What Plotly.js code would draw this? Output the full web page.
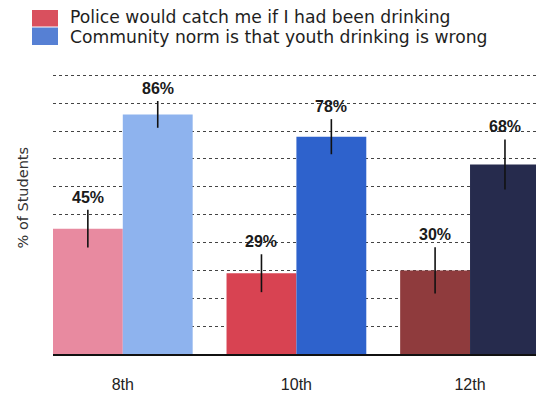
<!DOCTYPE html>
<html>
<head>
<meta charset="utf-8">
<script src="https://cdn.plot.ly/plotly-3.0.1.min.js"></script>
<style>
  html, body { margin: 0; padding: 0; background: #ffffff; }
  #chart { width: 536px; height: 393px; }
</style>
</head>
<body>
<div id="chart"></div>
<script>
// ---- data ----
const grades = ["8th", "10th", "12th"];
const seriesNames = [
  "Police would catch me if I had been drinking",
  "Community norm is that youth drinking is wrong"
];
const policeValues = [45, 29, 30];
const normValues = [86, 78, 68];
const policeErrors = [6.8, 6.8, 8.3];
const normErrors = [4.8, 6.3, 9.0];
const policeColors = ["#e88aa0", "#d84352", "#8f3b3d"];
const normColors = ["#8eb3ee", "#2e62cc", "#262b4d"];
const legendColors = ["#d9505e", "#5680d4"];
const yTitle = "% of Students";

// ---- layout constants ----
const W = 536, H = 393;
const M = { l: 53, r: 0, t: 74, b: 39 };
const PW = W - M.l - M.r, PH = H - M.t - M.b;
const BARGAP = 0.195;
const xs = grades.map((g, i) => i);
const px2x = p => (p - M.l) / PW;
const py2y = p => (H - M.b - p) / PH;

const errStyle = { type: "data", visible: true, color: "#111111", thickness: 1.6, width: 0 };

const traces = [
  {
    type: "bar", name: seriesNames[0], x: xs, y: policeValues,
    marker: { color: policeColors, line: { width: 0 } },
    error_y: Object.assign({ array: policeErrors }, errStyle),
    showlegend: false, hoverinfo: "skip"
  },
  {
    type: "bar", name: seriesNames[1], x: xs, y: normValues,
    marker: { color: normColors, line: { width: 0 } },
    error_y: Object.assign({ array: normErrors }, errStyle),
    showlegend: false, hoverinfo: "skip"
  }
];

const half = (1 - BARGAP) / 4;
const annotations = [];
[[policeValues, policeErrors, -half], [normValues, normErrors, half]].forEach(([vals, errs, off]) => {
  vals.forEach((v, i) => {
    annotations.push({
      x: i + off, y: v + errs[i], xref: "x", yref: "y",
      text: "<b>" + v + "%</b>", showarrow: false,
      yanchor: "bottom", yshift: 2,
      font: { family: "Liberation Sans, Arial, sans-serif", size: 16, color: "#1a1a1a" }
    });
  });
});

// legend (drawn manually to match swatch shape)
const legendRows = [{ top: 10, bottom: 26.5, mid: 16.5 }, { top: 27.5, bottom: 45, mid: 36.5 }];
const shapes = [];
seriesNames.forEach((name, k) => {
  const r = legendRows[k];
  shapes.push({
    type: "rect", xref: "paper", yref: "paper",
    x0: px2x(32), x1: px2x(58), y0: py2y(r.bottom), y1: py2y(r.top),
    fillcolor: legendColors[k], line: { width: 0 }
  });
  annotations.push({
    xref: "paper", yref: "paper", x: px2x(69), y: py2y(r.mid),
    xanchor: "left", yanchor: "middle", showarrow: false, text: name,
    borderpad: 0,
    font: { family: "DejaVu Sans, Verdana, sans-serif", size: 17.2, color: "#1e1e1e" }
  });
});

// y-axis title
annotations.push({
  xref: "paper", yref: "paper", x: px2x(22), y: py2y(197.5),
  xanchor: "center", yanchor: "middle", showarrow: false, textangle: -90,
  text: yTitle,
  font: { family: "DejaVu Sans, Verdana, sans-serif", size: 14.5, color: "#333333" }
});

const layout = {
  width: W, height: H,
  margin: M,
  paper_bgcolor: "#ffffff", plot_bgcolor: "#ffffff",
  barmode: "group", bargap: BARGAP, bargroupgap: 0,
  showlegend: false,
  xaxis: {
    type: "linear", range: [-0.402, 2.38],
    tickvals: xs, ticktext: grades, ticks: "",
    ticklabelstandoff: 15,
    tickfont: { family: "Liberation Sans, Arial, sans-serif", size: 16, color: "#222222" },
    showgrid: false, zeroline: false,
    showline: true, linecolor: "#111111", linewidth: 1.6,
    fixedrange: true
  },
  yaxis: {
    range: [0, 100.5], tick0: 0, dtick: 10,
    showticklabels: false, ticks: "",
    showgrid: true, gridcolor: "#444444", gridwidth: 1, griddash: "dot",
    zeroline: false, showline: false, fixedrange: true
  },
  shapes: shapes,
  annotations: annotations
};

Plotly.newPlot("chart", traces, layout, { displayModeBar: false, staticPlot: true });
</script>
</body>
</html>
